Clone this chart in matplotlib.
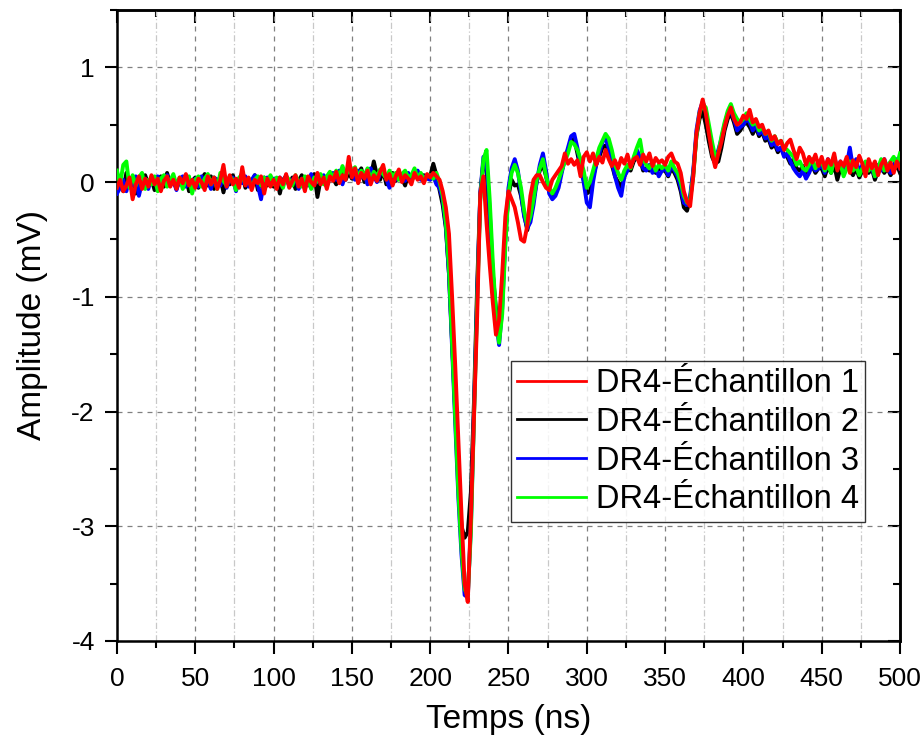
import numpy as np
import matplotlib
matplotlib.use('Agg')
import matplotlib.pyplot as plt
from matplotlib.ticker import MultipleLocator

plt.rcParams['font.family'] = ['Liberation Sans', 'DejaVu Sans']
plt.rcParams['axes.unicode_minus'] = False

# temps (ns), pas de 2 ns
temps = np.arange(0, 501, 2)

labels = ['DR4-Échantillon 1', 'DR4-Échantillon 2', 'DR4-Échantillon 3', 'DR4-Échantillon 4']
colors = ['#ff0000', '#000000', '#0000ff', '#00ff00']

ech1 = [
    -0.05, 0.02, -0.08, -0.03, 0.04, -0.15, -0.02, 0.05, -0.06, 0.03, -0.04, 0.06, -0.02, 0.03, -0.08, 0.01, 0.05, -0.04, 0.02, -0.06, 0.04, -0.01, 0.07, -0.03, 0.02,
    -0.05, 0.03, 0.00, -0.07, 0.05, -0.02, 0.04, -0.06, 0.02, 0.15, -0.04, 0.06, -0.02, 0.03, -0.05, 0.13, -0.03, 0.04, -0.07, 0.02, -0.01, 0.05, -0.10, 0.03, -0.04,
    0.02, -0.06, 0.04, -0.02, 0.07, -0.05, 0.01, 0.06, -0.04, 0.03, -0.08, 0.05, 0.00, -0.03, 0.08, -0.02, 0.04, -0.06, 0.05, 0.01, 0.09, -0.01, 0.06, 0.02, 0.22,
    0.04, 0.12, -0.01, 0.08, 0.03, 0.10, -0.02, 0.06, 0.01, 0.09, 0.15, 0.02, 0.07, -0.03, 0.05, 0.11, 0.00, 0.06, 0.03, -0.02, 0.08, 0.02, 0.05, -0.01, 0.07,
    0.04, 0.08, 0.05, 0.02, -0.08, -0.22, -0.45, -1.0, -1.6, -2.25, -2.9, -3.5, -3.66, -2.93, -2.03, -1.17, -0.1, 0.05, -0.36, -0.72, -1.05, -1.33, -1.2, -0.8, -0.3,
    -0.08, -0.15, -0.22, -0.35, -0.5, -0.52, -0.38, -0.12, 0.02, 0.06, 0.06, 0.0, -0.05, -0.07, 0.02, 0.06, 0.1, 0.14, 0.25, 0.16, 0.2, 0.15, 0.19, 0.05, 0.22,
    0.26, 0.18, 0.25, 0.15, 0.22, 0.17, 0.28, 0.2, 0.14, 0.19, 0.12, 0.21, 0.16, 0.24, 0.13, 0.2, 0.22, 0.15, 0.24, 0.18, 0.25, 0.14, 0.21, 0.17, 0.19,
    0.15, 0.22, 0.25, 0.18, 0.16, 0.08, -0.08, -0.17, -0.21, 0.05, 0.42, 0.6, 0.72, 0.6, 0.42, 0.25, 0.13, 0.25, 0.35, 0.48, 0.58, 0.65, 0.55, 0.5, 0.52,
    0.58, 0.55, 0.63, 0.52, 0.55, 0.48, 0.5, 0.42, 0.45, 0.37, 0.4, 0.33, 0.36, 0.28, 0.34, 0.37, 0.28, 0.2, 0.3, 0.25, 0.15, 0.22, 0.17, 0.24, 0.14,
    0.22, 0.12, 0.2, 0.15, 0.25, 0.1, 0.18, 0.14, 0.22, 0.08, 0.19, 0.13, 0.23, 0.16, 0.05, 0.2, 0.12, 0.18, 0.06, 0.15, 0.2, 0.1, 0.17, 0.08, 0.18,
    0.12,
]

ech2 = [
    -0.02, 0.05, -0.08, 0.08, -0.03, 0.04, -0.1, 0.02, -0.05, 0.06, -0.02, 0.03, -0.07, 0.01, 0.05, -0.04, 0.08, -0.02, 0.03, -0.06, 0.02, -0.03, 0.05, -0.08, 0.01,
    0.04, -0.05, 0.02, 0.07, -0.03, 0.05, -0.06, 0.01, 0.04, -0.09, 0.03, -0.02, 0.06, -0.04, 0.02, 0.08, -0.05, 0.03, -0.01, 0.06, -0.07, 0.02, 0.04, -0.03, 0.05,
    -0.04, 0.03, -0.1, 0.02, 0.05, -0.03, 0.04, -0.06, 0.01, 0.06, -0.02, 0.03, -0.05, 0.07, -0.13, 0.02, 0.05, -0.04, 0.08, 0.03, -0.02, 0.06, 0.1, 0.02, 0.08,
    0.03, 0.1, 0.05, 0.12, 0.0, 0.07, 0.04, 0.18, 0.06, 0.02, 0.1, -0.02, 0.05, 0.08, 0.01, 0.06, 0.03, -0.03, 0.07, 0.02, 0.05, 0.09, 0.03, 0.06, 0.04,
    0.05, 0.16, 0.06, -0.07, -0.2, -0.4, -0.8, -1.4, -2.0, -2.6, -3.0, -3.1, -3.05, -2.7, -1.9, -0.9, -0.1, 0.18, 0.1, -0.4, -0.8, -1.1, -1.32, -1.0, -0.45,
    -0.12, 0.02, -0.03, -0.02, -0.12, -0.28, -0.42, -0.3, -0.15, 0.0, 0.1, 0.15, 0.05, -0.08, -0.12, -0.08, 0.0, 0.1, 0.2, 0.28, 0.36, 0.38, 0.25, 0.12, 0.02,
    -0.1, -0.08, 0.05, 0.15, 0.22, 0.3, 0.32, 0.25, 0.15, 0.05, 0.0, -0.05, 0.05, 0.12, 0.1, 0.18, 0.22, 0.2, 0.1, 0.12, 0.1, 0.14, 0.08, 0.12, 0.1,
    0.1, 0.05, 0.12, 0.08, 0.02, -0.08, -0.22, -0.25, -0.15, 0.08, 0.4, 0.55, 0.62, 0.5, 0.35, 0.22, 0.16, 0.18, 0.3, 0.45, 0.55, 0.6, 0.52, 0.42, 0.45,
    0.5, 0.52, 0.48, 0.42, 0.48, 0.4, 0.44, 0.36, 0.38, 0.3, 0.33, 0.26, 0.3, 0.24, 0.22, 0.16, 0.2, 0.12, 0.1, 0.14, 0.06, 0.1, 0.14, 0.08, 0.12,
    0.12, 0.05, 0.14, 0.08, 0.15, 0.02, 0.12, 0.08, 0.14, 0.1, 0.06, 0.12, 0.04, 0.1, 0.15, 0.08, 0.12, 0.02, 0.1, 0.14, 0.08, 0.12, 0.06, 0.1, 0.15,
    0.08,
]

ech3 = [
    -0.1, -0.05, 0.02, -0.08, 0.04, -0.03, 0.05, -0.12, 0.0, 0.03, -0.06, 0.04, -0.02, 0.05, -0.05, 0.02, 0.06, -0.03, 0.01, -0.07, 0.03, 0.05, -0.04, 0.02, -0.02,
    0.03, -0.04, 0.05, -0.02, 0.01, -0.06, 0.04, 0.02, -0.03, 0.06, -0.05, 0.02, 0.04, -0.08, 0.03, -0.01, 0.05, -0.04, 0.02, 0.06, -0.03, -0.15, 0.02, 0.04, -0.02,
    0.03, -0.05, 0.04, -0.02, 0.06, -0.04, 0.02, 0.05, -0.06, 0.03, 0.01, -0.03, 0.07, -0.02, 0.04, 0.0, 0.06, -0.03, 0.05, 0.08, 0.02, 0.1, -0.02, 0.07, 0.12,
    0.06, 0.02, 0.1, 0.04, 0.08, -0.02, 0.12, 0.05, 0.0, 0.07, 0.1, 0.03, -0.05, 0.06, 0.02, 0.09, 0.04, 0.01, 0.08, 0.03, 0.06, 0.1, 0.02, 0.05, 0.03,
    0.02, 0.05, -0.02, -0.05, -0.15, -0.38, -0.8, -1.45, -2.1, -2.75, -3.25, -3.6, -3.62, -3.0, -2.0, -1.0, -0.1, 0.22, 0.18, -0.25, -0.8, -1.2, -1.42, -1.1, -0.5,
    -0.05, 0.12, 0.2, 0.1, -0.1, -0.3, -0.4, -0.35, -0.2, 0.0, 0.15, 0.25, 0.1, -0.1, -0.15, -0.12, -0.05, 0.08, 0.2, 0.3, 0.4, 0.42, 0.3, 0.15, 0.0,
    -0.18, -0.22, 0.0, 0.15, 0.25, 0.35, 0.38, 0.3, 0.2, 0.05, -0.05, -0.12, 0.05, 0.1, 0.15, 0.2, 0.28, 0.22, 0.12, 0.1, 0.15, 0.08, 0.12, 0.05, 0.1,
    0.12, 0.06, 0.15, 0.1, 0.05, -0.05, -0.18, -0.2, -0.12, 0.1, 0.45, 0.62, 0.7, 0.62, 0.45, 0.3, 0.2, 0.28, 0.38, 0.5, 0.6, 0.62, 0.55, 0.45, 0.48,
    0.5, 0.55, 0.52, 0.45, 0.5, 0.42, 0.45, 0.38, 0.4, 0.32, 0.35, 0.28, 0.3, 0.22, 0.25, 0.18, 0.12, 0.08, 0.05, 0.1, 0.03, 0.08, 0.15, 0.1, 0.12,
    0.15, 0.08, 0.2, 0.1, 0.22, 0.12, 0.18, 0.1, 0.15, 0.3, 0.12, 0.2, 0.08, 0.15, 0.1, 0.18, 0.12, 0.05, 0.15, 0.1, 0.2, 0.12, 0.08, 0.15, 0.2,
    0.12,
]

ech4 = [
    0.1, -0.02, 0.15, 0.18, -0.05, 0.06, -0.03, 0.04, 0.08, -0.06, 0.02, -0.02, 0.05, -0.08, 0.03, 0.06, -0.04, 0.01, 0.07, -0.03, 0.04, -0.06, 0.02, 0.05, -0.1,
    0.02, 0.05, -0.04, 0.03, 0.07, -0.02, 0.04, -0.06, 0.08, 0.01, -0.03, 0.05, 0.02, -0.07, 0.04, 0.06, -0.02, 0.03, -0.05, 0.02, 0.05, -0.03, 0.04, -0.01, 0.06,
    -0.02, 0.04, 0.01, -0.05, 0.05, 0.02, -0.03, 0.06, 0.0, -0.04, 0.05, 0.03, -0.06, 0.04, 0.01, 0.07, -0.02, 0.05, 0.09, 0.03, 0.1, 0.05, 0.14, 0.06, 0.1,
    0.08, 0.13, 0.04, 0.1, 0.06, 0.12, 0.02, 0.09, 0.05, 0.11, 0.07, 0.03, 0.1, 0.05, 0.08, 0.02, 0.07, 0.1, 0.04, 0.06, 0.12, 0.03, 0.08, 0.02, 0.06,
    0.06, 0.03, 0.08, 0.0, -0.12, -0.35, -0.75, -1.4, -2.05, -2.7, -3.2, -3.55, -3.6, -3.05, -2.05, -1.05, -0.15, 0.2, 0.28, -0.15, -0.7, -1.15, -1.4, -1.15, -0.55,
    -0.1, 0.08, 0.15, 0.08, -0.05, -0.25, -0.38, -0.3, -0.15, 0.02, 0.12, 0.2, 0.05, -0.05, -0.1, -0.05, 0.02, 0.1, 0.18, 0.25, 0.35, 0.33, 0.28, 0.2, 0.1,
    -0.05, 0.0, 0.1, 0.2, 0.3, 0.36, 0.42, 0.38, 0.28, 0.15, 0.08, 0.02, 0.1, 0.15, 0.12, 0.22, 0.3, 0.37, 0.2, 0.15, 0.12, 0.18, 0.1, 0.15, 0.12,
    0.15, 0.1, 0.18, 0.12, 0.08, 0.0, -0.12, -0.18, -0.15, 0.05, 0.4, 0.6, 0.68, 0.65, 0.5, 0.35, 0.22, 0.25, 0.4, 0.52, 0.62, 0.68, 0.6, 0.55, 0.52,
    0.55, 0.6, 0.55, 0.5, 0.53, 0.45, 0.48, 0.42, 0.44, 0.36, 0.4, 0.34, 0.36, 0.3, 0.28, 0.25, 0.22, 0.15, 0.18, 0.12, 0.1, 0.15, 0.2, 0.12, 0.17,
    0.18, 0.1, 0.15, 0.08, 0.2, 0.12, 0.16, 0.05, 0.12, 0.18, 0.1, 0.14, 0.06, 0.12, 0.18, 0.1, 0.15, 0.05, 0.12, 0.2, 0.1, 0.14, 0.18, 0.22, 0.15,
    0.25,
]

series = [ech1, ech2, ech3, ech4]

fig = plt.figure(figsize=(9.24, 7.40), dpi=100)
ax = fig.add_axes([0.1266, 0.1338, 0.8474, 0.8527])

# ordre de trace : rouge au-dessus
zorders = [6, 3, 4, 5]
lines = []
for y, c, lab, z in zip(series, colors, labels, zorders):
    ln, = ax.plot(temps, y, color=c, lw=2.8, label=lab, zorder=z)
    lines.append(ln)

ax.set_xlim(0, 500)
ax.set_ylim(-4, 1.5)
ax.xaxis.set_major_locator(MultipleLocator(50))
ax.xaxis.set_minor_locator(MultipleLocator(25))
ax.yaxis.set_major_locator(MultipleLocator(1))
ax.yaxis.set_minor_locator(MultipleLocator(0.5))

ax.grid(which='major', axis='both', color='#808080', linestyle=(0, (4, 4)), lw=0.9)
ax.grid(which='minor', axis='x', color='#c8c8c8', linestyle=(0, (5, 2, 1, 2)), lw=0.9)
ax.set_axisbelow(True)

ax.tick_params(axis='x', which='major', direction='out', length=9, width=1.5, labelsize=19, pad=10)
ax.tick_params(axis='y', which='major', direction='out', length=9, width=1.5, labelsize=19, pad=7)
ax.tick_params(which='minor', direction='out', length=5, width=1.5)

# graduations internes en haut et a droite
secx = ax.secondary_xaxis('top')
secx.xaxis.set_major_locator(MultipleLocator(50))
secx.xaxis.set_minor_locator(MultipleLocator(25))
secx.tick_params(which='both', direction='in', labeltop=False, width=1.5)
secx.tick_params(which='major', length=9)
secx.tick_params(which='minor', length=5)
secy = ax.secondary_yaxis('right')
secy.yaxis.set_major_locator(MultipleLocator(1))
secy.yaxis.set_minor_locator(MultipleLocator(0.5))
secy.tick_params(which='both', direction='in', labelright=False, width=1.5)
secy.tick_params(which='major', length=9)
secy.tick_params(which='minor', length=5)

for sp in ax.spines.values():
    sp.set_linewidth(1.8)
secx.spines['top'].set_linewidth(1.8)
secy.spines['right'].set_linewidth(1.8)

ax.set_xlabel('Temps (ns)', fontsize=24, labelpad=9)
ax.set_ylabel('Amplitude (mV)', fontsize=24, labelpad=17)

leg = ax.legend(handles=lines, loc='upper left', bbox_to_anchor=(0.503, 0.443),
                fontsize=23.5, frameon=True, fancybox=False, edgecolor='black',
                handlelength=2.1, handletextpad=0.3, labelspacing=0.24,
                borderpad=0.2, borderaxespad=0)
leg.get_frame().set_linewidth(1.0)
leg.set_zorder(10)
for h in leg.get_lines():
    h.set_linewidth(2.0)

fig.savefig('out.png', dpi=100)
